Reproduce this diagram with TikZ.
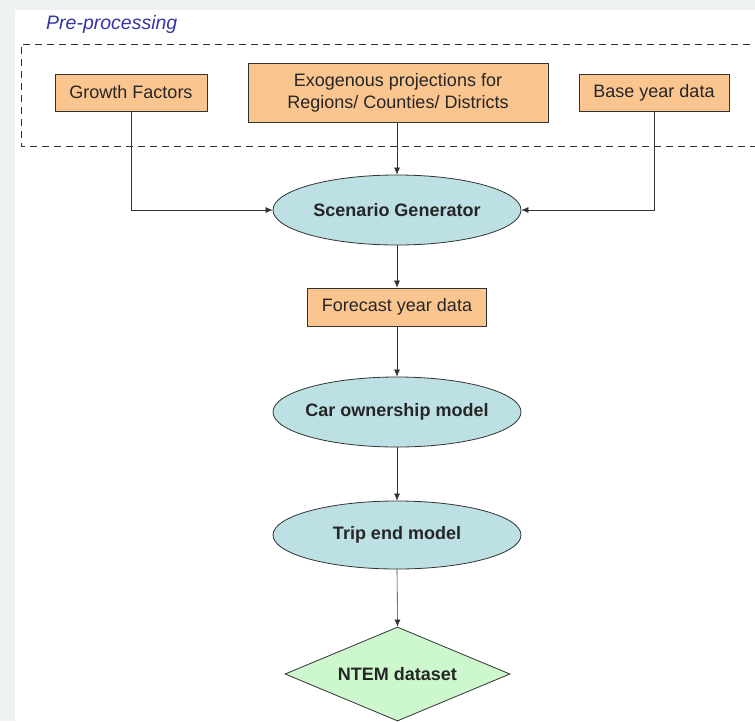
\documentclass[tikz,border=0pt]{standalone}
\usepackage{fontspec}
\setmainfont{Liberation Sans}
\usetikzlibrary{shapes.geometric,arrows.meta}
\definecolor{bgout}{HTML}{EEF2F2}
\definecolor{boxfill}{HTML}{FAC58F}
\definecolor{ellfill}{HTML}{BCE0E4}
\definecolor{diafill}{HTML}{CDF7CD}
\definecolor{lbl}{HTML}{3535A5}
\definecolor{edge}{HTML}{333333}
\newcommand{\zw}[1]{\makebox[0pt]{#1}}
\tikzset{
  orbox/.style={draw=edge, line width=0.8pt, fill=boxfill, inner sep=0pt, align=center, font=\fontsize{18}{22}\selectfont, text=black!85},
  ell/.style={ellipse, draw=edge, line width=0.8pt, fill=ellfill, inner sep=0pt, minimum width=248pt, minimum height=70pt, font=\fontsize{18}{22}\selectfont\bfseries, text=black!85},
  dia/.style={diamond, draw=edge, line width=0.8pt, fill=diafill, inner sep=0pt, aspect=2.4, minimum width=225pt, minimum height=94pt, font=\fontsize{18}{22}\selectfont\bfseries, text=black!85},
  arr/.style={draw=edge, line width=0.6pt, -{Latex[length=7pt,width=6pt]}}
}
\begin{document}
\begin{tikzpicture}[x=1pt,y=-1pt]
\useasboundingbox (0,0) rectangle (755,721);
\fill[bgout] (0,0) rectangle (755,721);
\fill[white] (15,10) rectangle (755,721);
\node[anchor=west, inner sep=0pt, font=\fontsize{19.5}{23}\selectfont\itshape, text=lbl] (pre) at (46,24) {Pre-processing};
\draw[edge, line width=0.7pt, dash pattern=on 7pt off 5pt] (762,44) -- (21,44) -- (21,146) -- (762,146);
\node[orbox, minimum width=152pt, minimum height=37pt] (gf) at (131,92.5) {Growth Factors};
\node[orbox, minimum width=300pt, minimum height=59pt] (ex) at (398,92.5) {Exogenous projections for\\Regions/ Counties/ Districts};
\node[orbox, minimum width=150pt, minimum height=37pt] (by) at (654,92.5) {Base year data};
\node[ell] (sc) at (397,210) {\zw{Scenario Generator}};
\node[orbox, minimum width=179pt, minimum height=38pt] (fy) at (397,307) {Forecast year data};
\node[ell] (co) at (397,412) {\zw{Car ownership model}};
\node[ell, minimum height=68pt] (te) at (397,535) {\zw{Trip end model}};
\node[dia] (nt) at (397.5,674) {\zw{NTEM dataset}};
\draw[arr] (gf.south) |- (sc.west);
\draw[arr] (by.south) |- (sc.east);
\draw[arr] (ex.south -| sc.north) -- (sc.north);
\draw[arr] (sc.south) -- (fy.north);
\draw[arr] (fy.south) -- (co.north);
\draw[arr] (co.south) -- (te.north);
\draw[arr] (te.south) -- (nt.north);
\end{tikzpicture}
\end{document}
